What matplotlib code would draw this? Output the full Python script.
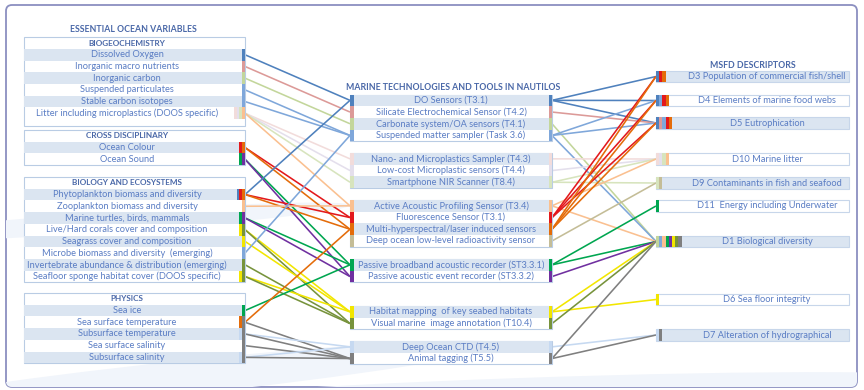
"""
EOV -> NAUTILOS tools -> MSFD descriptors connection diagram
"""
import matplotlib
matplotlib.use("Agg")
import matplotlib.pyplot as plt
from matplotlib.patches import Rectangle, FancyBboxPatch, Ellipse

plt.rcParams["font.family"] = ["Liberation Sans Narrow", "Lato", "DejaVu Sans"]

# --- data -------------------------------------------------------------
eov_title = "ESSENTIAL OCEAN VARIABLES"
eov_headers = ["BIOGEOCHEMISTRY", "CROSS DISCIPLINARY", "BIOLOGY AND ECOSYSTEMS", "PHYSICS"]
biogeochemistry = ["Dissolved Oxygen", "Inorganic macro nutrients", "Inorganic carbon",
                   "Suspended particulates", "Stable carbon isotopes",
                   "Litter including microplastics (DOOS specific)"]
cross_disciplinary = ["Ocean Colour", "Ocean Sound"]
biology = ["Phytoplankton biomass and diversity", "Zooplankton biomass and diversity",
           "Marine turtles, birds, mammals", "Live/Hard corals cover and composition",
           "Seagrass cover and composition", "Microbe biomass and diversity  (emerging)",
           "Invertebrate abundance & distribution (emerging)",
           "Seafloor sponge habitat cover (DOOS specific)"]
physics = ["Sea ice", "Sea surface temperature", "Subsurface temperature",
           "Sea surface salinity", "Subsurface salinity"]

tools_title = "MARINE TECHNOLOGIES AND TOOLS IN NAUTILOS"
tools_chemical = ["DO Sensors (T3.1)", "Silicate Electrochemical Sensor (T4.2)",
                  "Carbonate system/OA sensors (T4.1)", "Suspended matter sampler (Task 3.6)"]
tools_plastics = ["Nano- and Microplastics Sampler (T4.3)", "Low-cost Microplastic sensors (T4.4)",
                  "Smartphone NIR Scanner (T8.4)"]
tools_optical = ["Active Acoustic Profiling Sensor (T3.4)", "Fluorescence Sensor (T3.1)",
                 "Multi-hyperspectral/laser induced sensors", "Deep ocean low-level radioactivity sensor"]
tools_acoustic = ["Passive broadband acoustic recorder (ST3.3.1)", "Passive acoustic event recorder (ST3.3.2)"]
tools_imaging = ["Habitat mapping  of key seabed habitats", "Visual marine  image annotation (T10.4)"]
tools_physical = ["Deep Ocean CTD (T4.5)", "Animal tagging (T5.5)"]

msfd_title = "MSFD DESCRIPTORS"
msfd = ["D3 Population of commercial fish/shell", "D4 Elements of marine food webs",
        "D5 Eutrophication", "D10 Marine litter", "D9 Contaminants in fish and seafood",
        "D11  Energy including Underwater", "D1 Biological diversity",
        "D6 Sea floor integrity", "D7 Alteration of hydrographical"]

# EOV -> tools
eov_links = [
    ("Dissolved Oxygen", ["DO Sensors (T3.1)"]),
    ("Inorganic macro nutrients", ["Silicate Electrochemical Sensor (T4.2)"]),
    ("Inorganic carbon", ["Carbonate system/OA sensors (T4.1)"]),
    ("Suspended particulates", ["Suspended matter sampler (Task 3.6)"]),
    ("Stable carbon isotopes", ["Suspended matter sampler (Task 3.6)"]),
    ("Litter including microplastics (DOOS specific)",
     ["Nano- and Microplastics Sampler (T4.3)", "Low-cost Microplastic sensors (T4.4)",
      "Smartphone NIR Scanner (T8.4)", "Active Acoustic Profiling Sensor (T3.4)"]),
    ("Ocean Colour", ["Fluorescence Sensor (T3.1)", "Multi-hyperspectral/laser induced sensors"]),
    ("Ocean Sound", ["Passive broadband acoustic recorder (ST3.3.1)", "Passive acoustic event recorder (ST3.3.2)"]),
    ("Phytoplankton biomass and diversity",
     ["DO Sensors (T3.1)", "Fluorescence Sensor (T3.1)", "Multi-hyperspectral/laser induced sensors"]),
    ("Zooplankton biomass and diversity", ["Active Acoustic Profiling Sensor (T3.4)"]),
    ("Marine turtles, birds, mammals",
     ["Passive broadband acoustic recorder (ST3.3.1)", "Passive acoustic event recorder (ST3.3.2)"]),
    ("Live/Hard corals cover and composition",
     ["Habitat mapping  of key seabed habitats", "Visual marine  image annotation (T10.4)"]),
    ("Seagrass cover and composition", ["Habitat mapping  of key seabed habitats"]),
    ("Microbe biomass and diversity  (emerging)", ["Suspended matter sampler (Task 3.6)"]),
    ("Invertebrate abundance & distribution (emerging)", ["Visual marine  image annotation (T10.4)"]),
    ("Seafloor sponge habitat cover (DOOS specific)",
     ["Habitat mapping  of key seabed habitats", "Visual marine  image annotation (T10.4)"]),
    ("Sea ice", ["Passive broadband acoustic recorder (ST3.3.1)"]),
    ("Sea surface temperature", ["Multi-hyperspectral/laser induced sensors", "Animal tagging (T5.5)"]),
    ("Subsurface temperature", ["Deep Ocean CTD (T4.5)", "Animal tagging (T5.5)"]),
    ("Sea surface salinity", ["Animal tagging (T5.5)"]),
    ("Subsurface salinity", ["Deep Ocean CTD (T4.5)", "Animal tagging (T5.5)"]),
]

# tools -> MSFD descriptors
msfd_links = [
    ("DO Sensors (T3.1)", ["D3", "D4", "D5"]),
    ("Silicate Electrochemical Sensor (T4.2)", ["D5"]),
    ("Carbonate system/OA sensors (T4.1)", ["D1"]),
    ("Suspended matter sampler (Task 3.6)", ["D4", "D5", "D1"]),
    ("Nano- and Microplastics Sampler (T4.3)", ["D10"]),
    ("Low-cost Microplastic sensors (T4.4)", ["D10"]),
    ("Smartphone NIR Scanner (T8.4)", ["D10", "D9"]),
    ("Active Acoustic Profiling Sensor (T3.4)", ["D10", "D1"]),
    ("Fluorescence Sensor (T3.1)", ["D3", "D4", "D5"]),
    ("Multi-hyperspectral/laser induced sensors", ["D3", "D4", "D5"]),
    ("Deep ocean low-level radioactivity sensor", ["D9"]),
    ("Passive broadband acoustic recorder (ST3.3.1)", ["D11", "D1"]),
    ("Passive acoustic event recorder (ST3.3.2)", ["D1"]),
    ("Habitat mapping  of key seabed habitats", ["D1", "D6"]),
    ("Visual marine  image annotation (T10.4)", ["D1"]),
    ("Deep Ocean CTD (T4.5)", ["D7"]),
    ("Animal tagging (T5.5)", ["D1", "D7"]),
]

# colour of each tool (its links take the same colour)
tool_colors = ["#4f81bd", "#dc9a98", "#c3d69b", "#7fa7da",
               "#f2dcdb", "#e4dfec", "#d7e4bd",
               "#fac090", "#e3191c", "#e46c0a", "#c4bd97",
               "#00a650", "#7030a0",
               "#f2e600", "#77933c",
               "#c6d9f1", "#7f7f7f"]

# --- style ------------------------------------------------------------
SHADE = "#dbe5f1"
EDGE = "#b9cce4"
TXT = "#5a7dc4"
HEAD = "#4a68a8"
ROW = 11.7
FS = 6.7
HFS = 5.9

fig = plt.figure(figsize=(8.64, 3.9), dpi=100)
ax = fig.add_axes([0, 0, 1, 1])
ax.set_xlim(0, 864)
ax.set_ylim(390, 0)
ax.axis("off")

# frame and faint background swooshes
frame = FancyBboxPatch((6, 5), 851, 382, boxstyle="round,pad=0,rounding_size=6",
                       facecolor="white", edgecolor="#8b8fc0", lw=1.3, zorder=0)
ax.add_patch(frame)
for (cx, cy, w, h, ang) in [(110, 222, 480, 20, -4), (180, 378, 640, 34, -6), (520, 396, 900, 36, -2)]:
    sw = Ellipse((cx, cy), w, h, angle=ang, facecolor="#f1f5fb", edgecolor="none", zorder=0.2)
    ax.add_patch(sw)
    sw.set_clip_path(frame)

# --- left column --------------------------------------------------------
LX0, LX1 = 24, 245
LCX = 127
left_y = {}
ax.text(LCX + 6, 30, eov_title, ha="center", va="center", fontsize=6.3, fontweight="bold", color=HEAD)
for header, rows, top, blanks in zip(eov_headers, [biogeochemistry, cross_disciplinary, biology, physics],
                                     [37.2, 130, 177, 293], [0.6, 0, 0, 0]):
    n = len(rows)
    box = Rectangle((LX0, top), LX1 - LX0, ROW * (n + 1 + blanks), facecolor="white",
                    edgecolor=EDGE, lw=0.8, zorder=2)
    ax.add_patch(box)
    ax.text(LCX, top + ROW / 2, header, ha="center", va="center", fontsize=HFS,
            fontweight="bold", color=HEAD, zorder=4)
    for i, name in enumerate(rows):
        y0 = top + ROW * (i + 1)
        if i % 2 == 0:
            ax.add_patch(Rectangle((LX0, y0), LX1 - LX0, ROW, facecolor=SHADE, edgecolor="none", zorder=2.1))
        t = ax.text(LCX, y0 + ROW / 2, name, ha="center", va="center", fontsize=FS, color=TXT, zorder=4)
        t.set_clip_path(box)
        left_y[name] = y0 + ROW / 2

# --- middle column ------------------------------------------------------
MX0, MX1 = 350, 552
MCX = 451
mid_y = {}
tools_all = []
ax.text(MCX + 2, 88, tools_title, ha="center", va="center", fontsize=6.3, fontweight="bold", color=HEAD)
for rows, top in zip([tools_chemical, tools_plastics, tools_optical, tools_acoustic, tools_imaging, tools_physical],
                     [94.5, 153, 200, 259, 306, 341]):
    n = len(rows)
    ax.add_patch(Rectangle((MX0, top), MX1 - MX0, ROW * n, facecolor="white", edgecolor=EDGE, lw=0.8, zorder=2))
    for i, name in enumerate(rows):
        y0 = top + ROW * i
        if i % 2 == 0:
            ax.add_patch(Rectangle((MX0, y0), MX1 - MX0, ROW, facecolor=SHADE, edgecolor="none", zorder=2.1))
        ax.text(MCX, y0 + ROW / 2, name, ha="center", va="center", fontsize=FS, color=TXT, zorder=4)
        mid_y[name] = y0 + ROW / 2
        tools_all.append(name)
tool_col = dict(zip(tools_all, tool_colors))
for name in tools_all:
    y = mid_y[name]
    for x in (MX0, MX1 - 3.5):
        ax.add_patch(Rectangle((x, y - ROW / 2), 3.5, ROW, facecolor=tool_col[name], edgecolor="none", zorder=3))

# --- right column -------------------------------------------------------
RX0, RX1 = 656, 849
RCX = 767
right_y = {}
ax.text(753, 65, msfd_title, ha="center", va="center", fontsize=6.3, fontweight="bold", color=HEAD)
for i, (name, yc) in enumerate(zip(msfd, [76.5, 100.5, 123, 159, 183, 206, 241.5, 299.5, 335])):
    fc = SHADE if i % 2 == 0 else "white"
    ax.add_patch(Rectangle((RX0, yc - 5.8), RX1 - RX0, 11.6, facecolor=fc, edgecolor="#c7d6ea", lw=0.8, zorder=2))
    ax.text(RCX, yc, name, ha="center", va="center", fontsize=FS, color=TXT, zorder=4)
    right_y[name.split()[0]] = yc

# --- links --------------------------------------------------------------
left_bars = {}
for eov, targets in eov_links:
    for tool in targets:
        ax.plot([LX1, MX0], [left_y[eov], mid_y[tool]], color=tool_col[tool], lw=1.15,
                solid_capstyle="butt", zorder=1)
        left_bars.setdefault(eov, []).append(tool_col[tool])
right_bars = {}
for tool, targets in msfd_links:
    for d in targets:
        ax.plot([MX1, RX0], [mid_y[tool], right_y[d]], color=tool_col[tool], lw=1.15,
                solid_capstyle="butt", zorder=1)
        right_bars.setdefault(d, []).append(tool_col[tool])

# colour blocks at the box edges
for eov, cols in left_bars.items():
    y = left_y[eov]
    for k, c in enumerate(reversed(cols)):
        ax.add_patch(Rectangle((LX1 - 2.8 * (k + 1), y - ROW / 2), 2.8, ROW, facecolor=c,
                               edgecolor="none", zorder=3))
for d, cols in right_bars.items():
    y = right_y[d]
    for k, c in enumerate(cols):
        ax.add_patch(Rectangle((RX0 + 3.2 * k, y - 5.8), 3.2, 11.6, facecolor=c, edgecolor="none", zorder=3))

fig.savefig("out.png", dpi=100)
